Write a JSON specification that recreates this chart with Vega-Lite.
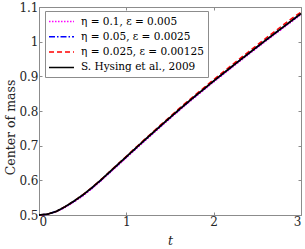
{
  "$schema": "https://vega.github.io/schema/vega-lite/v6.json",
  "width": 262,
  "height": 208,
  "autosize": {"type": "none"},
  "padding": {"left": 39, "top": 7, "right": 4, "bottom": 34},
  "background": "white",
  "datasets": {
    "hysing": [
      {"t": 0.0, "y": 0.5000}, {"t": 0.1, "y": 0.5025}, {"t": 0.2, "y": 0.5105}, {"t": 0.3, "y": 0.5240},
      {"t": 0.4, "y": 0.5400}, {"t": 0.5, "y": 0.5575}, {"t": 0.6, "y": 0.5775}, {"t": 0.7, "y": 0.5990},
      {"t": 0.8, "y": 0.6220}, {"t": 0.9, "y": 0.6450}, {"t": 1.0, "y": 0.6680}, {"t": 1.1, "y": 0.6910},
      {"t": 1.2, "y": 0.7140}, {"t": 1.3, "y": 0.7365}, {"t": 1.4, "y": 0.7590}, {"t": 1.5, "y": 0.7810},
      {"t": 1.6, "y": 0.8030}, {"t": 1.7, "y": 0.8245}, {"t": 1.8, "y": 0.8455}, {"t": 1.9, "y": 0.8660},
      {"t": 2.0, "y": 0.8865}, {"t": 2.1, "y": 0.9065}, {"t": 2.2, "y": 0.9265}, {"t": 2.3, "y": 0.9465},
      {"t": 2.4, "y": 0.9660}, {"t": 2.5, "y": 0.9855}, {"t": 2.6, "y": 1.0050}, {"t": 2.7, "y": 1.0240},
      {"t": 2.8, "y": 1.0430}, {"t": 2.9, "y": 1.0620}, {"t": 3.0, "y": 1.0810}
    ],
    "eta01": [
      {"t": 0.0, "y": 0.5000}, {"t": 0.1, "y": 0.5020}, {"t": 0.2, "y": 0.5095}, {"t": 0.3, "y": 0.5220},
      {"t": 0.4, "y": 0.5375}, {"t": 0.5, "y": 0.5545}, {"t": 0.6, "y": 0.5745}, {"t": 0.7, "y": 0.5960},
      {"t": 0.8, "y": 0.6190}, {"t": 0.9, "y": 0.6420}, {"t": 1.0, "y": 0.6650}, {"t": 1.1, "y": 0.6880},
      {"t": 1.2, "y": 0.7110}, {"t": 1.3, "y": 0.7335}, {"t": 1.4, "y": 0.7560}, {"t": 1.5, "y": 0.7780},
      {"t": 1.6, "y": 0.8000}, {"t": 1.7, "y": 0.8215}, {"t": 1.8, "y": 0.8425}, {"t": 1.9, "y": 0.8630},
      {"t": 2.0, "y": 0.8835}, {"t": 2.1, "y": 0.9035}, {"t": 2.2, "y": 0.9235}, {"t": 2.3, "y": 0.9435},
      {"t": 2.4, "y": 0.9630}, {"t": 2.5, "y": 0.9825}, {"t": 2.6, "y": 1.0020}, {"t": 2.7, "y": 1.0210},
      {"t": 2.8, "y": 1.0400}, {"t": 2.9, "y": 1.0590}, {"t": 3.0, "y": 1.0780}
    ],
    "eta005": [
      {"t": 0.0, "y": 0.5000}, {"t": 0.1, "y": 0.5025}, {"t": 0.2, "y": 0.5105}, {"t": 0.3, "y": 0.5235},
      {"t": 0.4, "y": 0.5395}, {"t": 0.5, "y": 0.5570}, {"t": 0.6, "y": 0.5770}, {"t": 0.7, "y": 0.5985},
      {"t": 0.8, "y": 0.6215}, {"t": 0.9, "y": 0.6445}, {"t": 1.0, "y": 0.6675}, {"t": 1.1, "y": 0.6905},
      {"t": 1.2, "y": 0.7135}, {"t": 1.3, "y": 0.7360}, {"t": 1.4, "y": 0.7585}, {"t": 1.5, "y": 0.7805},
      {"t": 1.6, "y": 0.8025}, {"t": 1.7, "y": 0.8240}, {"t": 1.8, "y": 0.8450}, {"t": 1.9, "y": 0.8660},
      {"t": 2.0, "y": 0.8865}, {"t": 2.1, "y": 0.9065}, {"t": 2.2, "y": 0.9265}, {"t": 2.3, "y": 0.9465},
      {"t": 2.4, "y": 0.9660}, {"t": 2.5, "y": 0.9855}, {"t": 2.6, "y": 1.0050}, {"t": 2.7, "y": 1.0240},
      {"t": 2.8, "y": 1.0430}, {"t": 2.9, "y": 1.0620}, {"t": 3.0, "y": 1.0810}
    ],
    "eta0025": [
      {"t": 0.0, "y": 0.5000}, {"t": 0.1, "y": 0.5025}, {"t": 0.2, "y": 0.5105}, {"t": 0.3, "y": 0.5240},
      {"t": 0.4, "y": 0.5400}, {"t": 0.5, "y": 0.5580}, {"t": 0.6, "y": 0.5780}, {"t": 0.7, "y": 0.5997},
      {"t": 0.8, "y": 0.6230}, {"t": 0.9, "y": 0.6462}, {"t": 1.0, "y": 0.6695}, {"t": 1.1, "y": 0.6927},
      {"t": 1.2, "y": 0.7160}, {"t": 1.3, "y": 0.7387}, {"t": 1.4, "y": 0.7615}, {"t": 1.5, "y": 0.7837},
      {"t": 1.6, "y": 0.8060}, {"t": 1.7, "y": 0.8277}, {"t": 1.8, "y": 0.8490}, {"t": 1.9, "y": 0.8697},
      {"t": 2.0, "y": 0.8905}, {"t": 2.1, "y": 0.9107}, {"t": 2.2, "y": 0.9310}, {"t": 2.3, "y": 0.9512},
      {"t": 2.4, "y": 0.9710}, {"t": 2.5, "y": 0.9907}, {"t": 2.6, "y": 1.0105}, {"t": 2.7, "y": 1.0297},
      {"t": 2.8, "y": 1.0490}, {"t": 2.9, "y": 1.0680}, {"t": 3.0, "y": 1.0850}
    ]
  },
  "layer": [
    {
      "data": {"name": "eta01"},
      "mark": {"type": "line", "strokeWidth": 1.5, "strokeCap": "butt"},
      "encoding": {
        "x": {"field": "t", "type": "quantitative", "scale": {"domain": [0, 3], "nice": false, "zero": false},
              "axis": {"orient": "bottom", "values": [0, 1, 2, 3], "title": "t", "titleFontStyle": "italic", "titlePadding": 7, "format": "~g"}},
        "y": {"field": "y", "type": "quantitative", "scale": {"domain": [0.5, 1.1], "nice": false, "zero": false},
              "axis": {"orient": "left", "values": [0.5, 0.6, 0.7, 0.8, 0.9, 1.0, 1.1], "title": "Center of mass", "titleY": 120, "format": "~g"}},
        "color": {"datum": "η = 0.1, ε = 0.005", "type": "nominal", "scale": {"domain": ["η = 0.1, ε = 0.005", "η = 0.05, ε = 0.0025", "η = 0.025, ε = 0.00125", "S. Hysing et al., 2009"], "range": ["#FF00FF", "#0000FF", "#FF0000", "#000000"]}, "legend": {"title": null}},
        "strokeDash": {"datum": "η = 0.1, ε = 0.005", "type": "nominal", "scale": {"domain": ["η = 0.1, ε = 0.005", "η = 0.05, ε = 0.0025", "η = 0.025, ε = 0.00125", "S. Hysing et al., 2009"], "range": [[1.5, 1.5], [6, 2, 1.5, 2], [5, 3], [1, 0]]}, "legend": {"title": null}}
      }
    },
    {
      "data": {"name": "eta005"},
      "mark": {"type": "line", "strokeWidth": 1.5},
      "encoding": {
        "x": {"field": "t", "type": "quantitative", "axis": null},
        "y": {"field": "y", "type": "quantitative", "axis": null},
        "color": {"datum": "η = 0.05, ε = 0.0025", "type": "nominal"},
        "strokeDash": {"datum": "η = 0.05, ε = 0.0025", "type": "nominal"}
      }
    },
    {
      "data": {"name": "eta0025"},
      "mark": {"type": "line", "strokeWidth": 1.5},
      "encoding": {
        "x": {"field": "t", "type": "quantitative", "axis": null},
        "y": {"field": "y", "type": "quantitative", "axis": null},
        "color": {"datum": "η = 0.025, ε = 0.00125", "type": "nominal"},
        "strokeDash": {"datum": "η = 0.025, ε = 0.00125", "type": "nominal"}
      }
    },
    {
      "data": {"name": "hysing"},
      "mark": {"type": "line", "strokeWidth": 1.8},
      "encoding": {
        "x": {"field": "t", "type": "quantitative", "axis": {"orient": "top", "values": [0, 1, 2, 3], "labels": false, "title": null, "domain": true}},
        "y": {"field": "y", "type": "quantitative", "axis": {"orient": "right", "values": [0.5, 0.6, 0.7, 0.8, 0.9, 1.0, 1.1], "labels": false, "title": null}},
        "color": {"datum": "S. Hysing et al., 2009", "type": "nominal"},
        "strokeDash": {"datum": "S. Hysing et al., 2009", "type": "nominal"}
      }
    }
  ],
  "resolve": {"axis": {"x": "independent", "y": "independent"}},
  "config": {
    "font": "DejaVu Serif",
    "view": {"stroke": null},
    "axis": {
      "grid": false,
      "domainColor": "#8c8c8c",
      "domainWidth": 1,
      "tickColor": "#8c8c8c",
      "tickSize": -3,
      "tickWidth": 1,
      "labelFont": "DejaVu Serif",
      "labelFontSize": 12,
      "labelColor": "#262626",
      "labelPadding": 4,
      "titleFont": "DejaVu Serif",
      "titleFontSize": 12.5,
      "titleFontWeight": "normal",
      "titleColor": "#262626",
      "titlePadding": 1,
      "labelAngle": 0
    },
    "legend": {
      "orient": "none",
      "legendX": 6,
      "legendY": 4,
      "padding": 4,
      "strokeColor": "#8c8c8c",
      "fillColor": "white",
      "symbolType": "M-2.27,0H2.27",
      "symbolSize": 121,
      "symbolStrokeWidth": 1.5,
      "symbolFillColor": "transparent",
      "symbolOffset": 6,
      "labelFont": "DejaVu Serif",
      "labelFontSize": 10.5,
      "labelColor": "#000000",
      "labelOffset": 13,
      "rowPadding": 3.3,
      "labelLimit": 300
    }
  }
}
